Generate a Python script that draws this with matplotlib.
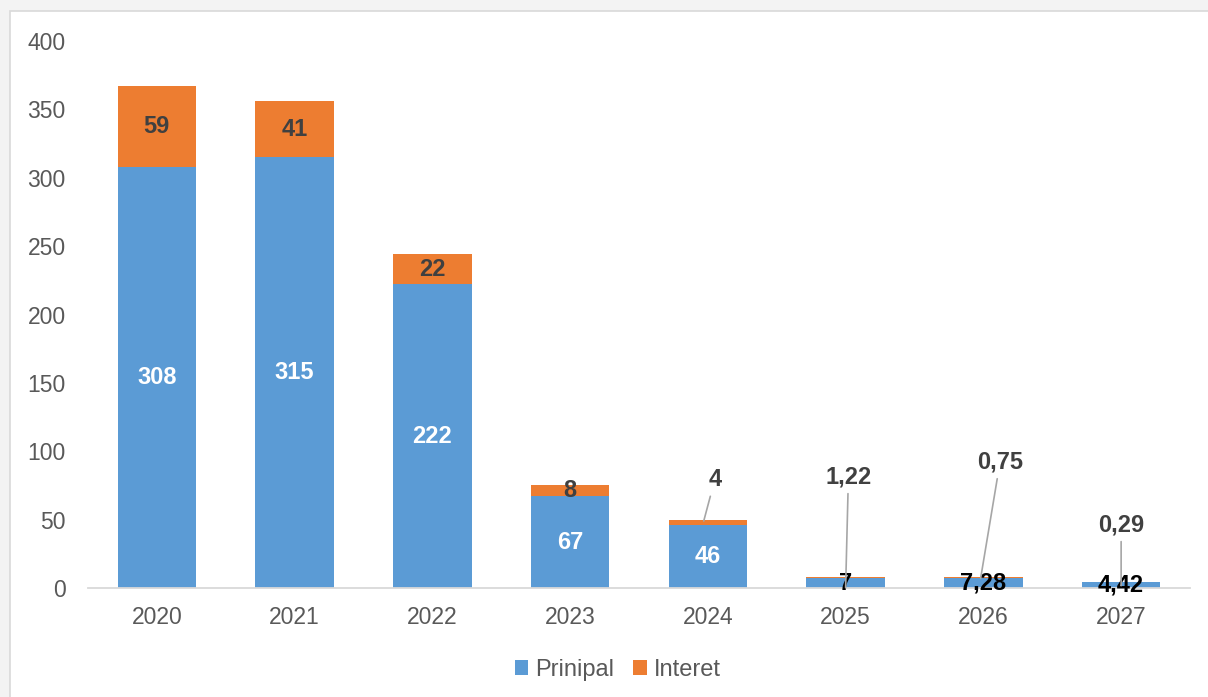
import matplotlib.pyplot as plt
from matplotlib.patches import Rectangle

plt.rcParams['font.family'] = ['Liberation Sans', 'DejaVu Sans']

# data
years = ['2020', '2021', '2022', '2023', '2024', '2025', '2026', '2027']
principal = [308, 315, 222, 67, 46, 7, 7.28, 4.42]
interest = [59, 41, 22, 8, 4, 1.22, 0.75, 0.29]

blue = '#5B9BD5'
orange = '#ED7D31'


def fmt(v):
    s = ('%g' % v).replace('.', ',')
    return s


fig = plt.figure(figsize=(12.08, 6.97), dpi=100)
fig.patch.set_facecolor('#f3f3f3')
# white chart area with thin border
fig.patches.append(Rectangle((10 / 1208, -0.01), 1.0, 1 - 11 / 697 + 0.01,
                             transform=fig.transFigure, facecolor='white',
                             edgecolor='#d9d9d9', linewidth=1.2, zorder=-5))

ax = fig.add_axes([88 / 1208, 109 / 697, 1102 / 1208, 547 / 697])
ax.set_facecolor('none')
x = range(len(years))
b1 = ax.bar(x, principal, width=0.57, color=blue, linewidth=0, label='Prinipal')
b2 = ax.bar(x, interest, width=0.57, bottom=principal, color=orange, linewidth=0, label='Interet')

ax.set_xlim(-0.5, len(years) - 0.5)
ax.set_ylim(0, 400)
ax.set_xticks(list(x))
ax.set_xticklabels(years)
ax.set_yticks(range(0, 401, 50))
ax.tick_params(axis='both', length=0, labelsize=16.5, labelcolor='#595959')
ax.tick_params(axis='x', pad=13)
ax.tick_params(axis='y', pad=16)
for s in ['top', 'right', 'left']:
    ax.spines[s].set_visible(False)
ax.spines['bottom'].set_color('#d9d9d9')
ax.spines['bottom'].set_linewidth(1.3)

lab_size = 17

# principal labels
for i, (p, q) in enumerate(zip(principal, interest)):
    if p > 20:
        ax.text(i, p / 2, fmt(p), ha='center', va='center', color='white',
                fontsize=lab_size, fontweight='bold')
    else:
        ax.text(i, p / 2, fmt(p), ha='center', va='center', color='black',
                fontsize=lab_size, fontweight='bold')

# interest labels: inside when big enough, otherwise with a leader line
offsets = {4: (8, 30), 5: (2, 80), 6: (14, 84), 7: (0, 44)}
line_end = {4: (-0.03, -1), 5: (0, -8), 6: (-0.02, -1), 7: (0, -3)}
for i, (p, q) in enumerate(zip(principal, interest)):
    if i in offsets:
        dx, dy = offsets[i]
        ex, ey = line_end[i]
        ax.annotate(fmt(q), xy=(i + ex, p + q + ey), xytext=(dx, dy),
                    textcoords='offset points', ha='center', va='center',
                    color='#404040', fontsize=lab_size, fontweight='bold',
                    arrowprops=dict(arrowstyle='-', color='#a6a6a6', lw=1.2,
                                    shrinkA=2, shrinkB=0))
    else:
        ax.text(i, p + q / 2, fmt(q), ha='center', va='center', color='#404040',
                fontsize=lab_size, fontweight='bold')

leg = fig.legend(handles=[b1, b2], loc='center', bbox_to_anchor=(618 / 1208, 1 - 670 / 697),
                 ncol=2, frameon=False, fontsize=17, handlelength=0.58, handleheight=0.58,
                 handletextpad=0.3, columnspacing=0.8)
for t in leg.get_texts():
    t.set_color('#595959')

fig.savefig('out.png', dpi=100, facecolor=fig.get_facecolor())
